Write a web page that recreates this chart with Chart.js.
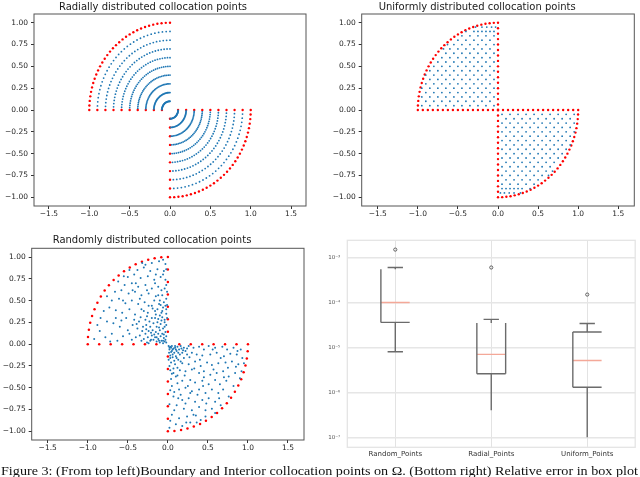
<!DOCTYPE html>
<html><head><meta charset="utf-8">
<script src="https://cdn.jsdelivr.net/npm/chart.js@4"></script>
<style>
html,body{margin:0;padding:0;background:#fff;}
body{width:640px;height:477px;overflow:hidden;position:relative;}
canvas{position:absolute;}
#caption{position:absolute;left:1px;top:464px;font-family:"Liberation Serif",serif;font-size:13px;line-height:13px;white-space:nowrap;color:#111;transform-origin:0 0;}
</style></head>
<body>
<canvas id="cRadial" width="320" height="230" style="left:0;top:0"></canvas>
<canvas id="cUniform" width="320" height="230" style="left:320px;top:0"></canvas>
<canvas id="cRandom" width="320" height="247" style="left:0;top:230px"></canvas>
<canvas id="cBox" width="320" height="230" style="left:320px;top:230px"></canvas>
<div id="caption">Figure 3: (From top left)Boundary and Interior collocation points on Ω. (Bottom right) Relative error in box plot</div>
<script>
// ================= DATA =================
const scatterXTicks = [-1.5, -1.0, -0.5, 0, 0.5, 1.0, 1.5];
const scatterXTickLabels = ['−1.5', '−1.0', '−0.5', '0.0', '0.5', '1.0', '1.5'];
const scatterYTicks = [-1, -0.75, -0.5, -0.25, 0, 0.25, 0.5, 0.75, 1];
const scatterYTickLabels = ['−1.00', '−0.75', '−0.50', '−0.25', '0.00', '0.25', '0.50', '0.75', '1.00'];

// Radial: interior arcs (radii) and angular positions within a quadrant (degrees)
const radialRadii = [0.1, 0.2, 0.3, 0.4, 0.5, 0.6, 0.7, 0.8, 0.9];
const radialBoundaryRadius = 1.0;
const radialArcOffsets = [3, 6, 9, 12, 15, 18, 21, 24, 27, 30, 33, 36, 39, 42, 45, 48, 51, 54, 57, 60, 63, 66, 69, 72, 75, 78, 81, 84, 87];

// Uniform: interior rows of the upper-left quarter (lower-right is its point reflection)
const uniformRowY = [0.05, 0.10, 0.15, 0.20, 0.25, 0.30, 0.35, 0.40, 0.45, 0.50, 0.55, 0.60, 0.65, 0.70, 0.75, 0.80, 0.85, 0.90, 0.95];
const uniformRowX = [
  [-0.95, -0.85, -0.75, -0.65, -0.55, -0.45, -0.35, -0.25, -0.15, -0.05],
  [-0.90, -0.80, -0.70, -0.60, -0.50, -0.40, -0.30, -0.20, -0.10],
  [-0.95, -0.85, -0.75, -0.65, -0.55, -0.45, -0.35, -0.25, -0.15, -0.05],
  [-0.90, -0.80, -0.70, -0.60, -0.50, -0.40, -0.30, -0.20, -0.10],
  [-0.95, -0.85, -0.75, -0.65, -0.55, -0.45, -0.35, -0.25, -0.15, -0.05],
  [-0.90, -0.80, -0.70, -0.60, -0.50, -0.40, -0.30, -0.20, -0.10],
  [-0.85, -0.75, -0.65, -0.55, -0.45, -0.35, -0.25, -0.15, -0.05],
  [-0.90, -0.80, -0.70, -0.60, -0.50, -0.40, -0.30, -0.20, -0.10],
  [-0.85, -0.75, -0.65, -0.55, -0.45, -0.35, -0.25, -0.15, -0.05],
  [-0.80, -0.70, -0.60, -0.50, -0.40, -0.30, -0.20, -0.10],
  [-0.75, -0.65, -0.55, -0.45, -0.35, -0.25, -0.15, -0.05],
  [-0.70, -0.60, -0.50, -0.40, -0.30, -0.20, -0.10],
  [-0.65, -0.55, -0.45, -0.35, -0.25, -0.15, -0.05],
  [-0.68, -0.60, -0.50, -0.40, -0.30, -0.20, -0.10],
  [-0.63, -0.55, -0.45, -0.35, -0.25, -0.15, -0.05],
  [-0.50, -0.40, -0.30, -0.20, -0.10],
  [-0.45, -0.35, -0.25, -0.15, -0.05],
  [-0.40, -0.30, -0.25, -0.20, -0.15, -0.10, -0.05],
  [-0.28, -0.20, -0.14, -0.08, -0.03]
];
const uniformArcOffsets = [0, 3, 6, 9, 12, 15, 18, 21, 24, 27, 30, 33, 36, 39, 42, 45, 48, 51, 54, 57, 60, 63, 66, 69, 72, 75, 78, 81, 84, 87, 90];
const uniformEdgeSteps = [0, 0.0625, 0.125, 0.1875, 0.25, 0.3125, 0.375, 0.4375, 0.5, 0.5625, 0.625, 0.6875, 0.75, 0.8125, 0.875, 0.9375];

// Random: boundary positions and estimated interior points
const randomArcOffsets = [0, 4.7, 9.5, 14.2, 18.9, 23.7, 28.4, 33.2, 37.9, 42.6, 47.4, 52.1, 56.8, 61.6, 66.3, 71.1, 75.8, 80.5, 85.3, 90];
const randomEdgeSteps = [0.143, 0.286, 0.429, 0.571, 0.714, 0.857];
const randomInteriorUL = [
  [-0.02,0.02],[-0.04,0.03],[-0.06,0.01],[-0.03,0.05],[-0.08,0.04],[-0.10,0.02],[-0.05,0.07],[-0.12,0.06],[-0.14,0.03],[-0.09,0.09],
  [-0.02,0.09],[-0.16,0.08],[-0.18,0.05],[-0.07,0.12],[-0.12,0.12],[-0.20,0.10],[-0.22,0.04],[-0.25,0.08],[-0.15,0.14],[-0.03,0.14],
  [-0.10,0.16],[-0.19,0.16],[-0.28,0.12],[-0.24,0.15],[-0.30,0.06],[-0.06,0.18],[-0.14,0.20],[-0.22,0.20],[-0.32,0.15],[-0.02,0.22],
  [-0.09,0.23],[-0.18,0.24],[-0.27,0.22],[-0.35,0.10],[-0.38,0.18],[-0.04,0.28],[-0.12,0.29],[-0.20,0.30],[-0.28,0.28],[-0.36,0.26],
  [-0.44,0.22],[-0.50,0.16],[-0.56,0.09],[-0.63,0.04],[-0.45,0.05],[-0.70,0.12],[-0.78,0.08],[-0.85,0.15],[-0.92,0.06],[-0.60,0.20],
  [-0.68,0.24],[-0.76,0.26],[-0.84,0.30],[-0.52,0.30],[-0.02,0.35],[-0.08,0.36],[-0.16,0.38],[-0.25,0.36],[-0.33,0.40],[-0.41,0.34],
  [-0.48,0.40],[-0.57,0.36],[-0.65,0.39],[-0.73,0.42],[-0.80,0.38],[-0.03,0.44],[-0.11,0.46],[-0.20,0.44],[-0.29,0.48],[-0.37,0.46],
  [-0.45,0.50],[-0.53,0.47],[-0.61,0.52],[-0.70,0.50],[-0.76,0.55],[-0.02,0.52],[-0.07,0.56],[-0.15,0.55],[-0.24,0.58],[-0.33,0.56],
  [-0.41,0.60],[-0.49,0.58],[-0.58,0.62],[-0.66,0.60],[-0.04,0.64],[-0.12,0.66],[-0.20,0.64],[-0.28,0.68],[-0.37,0.66],[-0.45,0.70],
  [-0.54,0.68],[-0.62,0.72],[-0.03,0.74],[-0.09,0.77],[-0.17,0.74],[-0.25,0.78],[-0.34,0.76],[-0.42,0.80],[-0.50,0.77],[-0.05,0.84],
  [-0.13,0.86],[-0.22,0.84],[-0.30,0.88],[-0.38,0.85],[-0.48,0.85],[-0.03,0.92],[-0.11,0.95],[-0.20,0.93],[-0.28,0.91],[-0.06,0.97],
  [-0.01,0.30],[-0.02,0.40],[-0.05,0.48],[-0.01,0.60],[-0.06,0.42],[-0.10,0.33],[-0.13,0.40],[-0.08,0.27],[-0.16,0.30],[-0.23,0.26],
  [-0.31,0.20],[-0.26,0.02],[-0.40,0.08],[-0.42,0.28],[-0.05,0.11],[-0.11,0.04],[-0.17,0.11],[-0.04,0.20],[-0.13,0.25],[-0.21,0.13],
  [-0.07,0.31],[-0.15,0.34],[-0.19,0.41],[-0.26,0.32],[-0.10,0.50],[-0.17,0.50],[-0.24,0.44],[-0.30,0.38],[-0.34,0.31],[-0.39,0.23],
  [-0.27,0.17],[-0.33,0.04],[-0.07,0.38],[-0.12,0.56],[-0.08,0.62],[-0.16,0.70],[-0.02,0.68],[-0.06,0.80],[-0.02,0.86],[-0.15,0.80],
  [-0.56,0.50],[-0.65,0.30],[-0.72,0.03],[-0.88,0.22],[-0.48,0.12],[-0.58,0.27],[-0.35,0.52],[-0.40,0.70],[-0.55,0.78],[-0.32,0.93],
  [-0.44,0.62],[-0.26,0.62],[-0.21,0.05],[-0.04,0.25],[-0.01,0.45],[-0.09,0.45],[-0.14,0.08],[-0.24,0.01],[-0.06,0.04],[-0.11,0.19]
];
const randomInteriorLR = [
  [0.01,-0.02],[0.03,-0.03],[0.05,-0.02],[0.07,-0.05],[0.02,-0.06],[0.05,-0.08],[0.09,-0.04],[0.11,-0.08],[0.08,-0.10],[0.06,-0.12],
  [0.03,-0.13],[0.12,-0.03],[0.14,-0.06],[0.06,-0.15],[0.10,-0.14],[0.15,-0.12],[0.18,-0.10],[0.20,-0.04],[0.22,-0.08],[0.13,-0.18],
  [0.08,-0.19],[0.01,-0.18],[0.04,-0.09],[0.015,-0.10],[0.16,-0.02],[0.02,-0.25],[0.26,-0.02],[0.32,-0.04],[0.39,-0.03],[0.45,-0.06],
  [0.51,-0.02],[0.59,-0.04],[0.68,-0.03],[0.74,-0.06],[0.82,-0.04],[0.91,-0.06],[0.24,-0.12],[0.30,-0.10],[0.36,-0.12],[0.43,-0.13],
  [0.53,-0.12],[0.61,-0.10],[0.70,-0.14],[0.78,-0.11],[0.86,-0.12],[0.93,-0.16],[0.95,-0.22],[0.18,-0.22],[0.26,-0.23],[0.34,-0.20],
  [0.41,-0.25],[0.49,-0.21],[0.55,-0.24],[0.63,-0.22],[0.72,-0.21],[0.80,-0.20],[0.88,-0.23],[0.92,-0.31],[0.12,-0.27],[0.22,-0.31],
  [0.30,-0.29],[0.39,-0.33],[0.45,-0.31],[0.53,-0.35],[0.61,-0.33],[0.69,-0.31],[0.76,-0.37],[0.84,-0.33],[0.90,-0.39],[0.10,-0.37],
  [0.18,-0.42],[0.28,-0.41],[0.34,-0.44],[0.43,-0.42],[0.51,-0.46],[0.59,-0.41],[0.65,-0.46],[0.73,-0.42],[0.82,-0.48],[0.05,-0.48],
  [0.14,-0.52],[0.22,-0.50],[0.30,-0.54],[0.39,-0.52],[0.47,-0.56],[0.55,-0.52],[0.63,-0.56],[0.69,-0.52],[0.76,-0.60],[0.07,-0.60],
  [0.18,-0.64],[0.26,-0.62],[0.34,-0.66],[0.43,-0.64],[0.51,-0.62],[0.59,-0.66],[0.66,-0.70],[0.11,-0.70],[0.20,-0.74],[0.30,-0.76],
  [0.39,-0.72],[0.47,-0.76],[0.55,-0.74],[0.59,-0.79],[0.05,-0.81],[0.14,-0.85],[0.24,-0.83],[0.32,-0.81],[0.41,-0.87],[0.47,-0.83],
  [0.10,-0.92],[0.18,-0.94],[0.28,-0.90],[0.36,-0.90],[0.03,-0.88],[0.02,-0.69],[0.04,-0.40],[0.03,-0.30],[0.09,-0.23],[0.15,-0.30],
  [0.05,-0.34],[0.20,-0.16],[0.27,-0.15],[0.12,-0.45],[0.08,-0.55],[0.04,-0.04],[0.10,-0.06],[0.03,-0.16],[0.07,-0.28],[0.17,-0.05],
  [0.02,-0.04],[0.06,-0.06],[0.09,-0.02],[0.13,-0.10],[0.04,-0.21],[0.11,-0.16],[0.19,-0.07],[0.24,-0.05],[0.16,-0.20],[0.07,-0.33],
  [0.12,-0.36],[0.21,-0.36],[0.25,-0.48],[0.16,-0.58],[0.37,-0.58],[0.44,-0.48],[0.57,-0.29],[0.66,-0.16],[0.75,-0.27],[0.85,-0.26],
  [0.87,-0.08],[0.70,-0.38],[0.48,-0.68],[0.35,-0.82],[0.23,-0.90],[0.08,-0.76],[0.22,-0.68],[0.03,-0.53],[0.64,-0.62],[0.56,-0.06],
  [0.40,-0.18],[0.33,-0.28],[0.02,-0.96],[0.13,-0.62],[0.28,-0.56],[0.45,-0.38]
];

// Box plot (relative error)
const boxCategories = ['Random_Points', 'Radial_Points', 'Uniform_Points'];
const boxWhiskerLow  = [8.0e-6, 4.0e-7, 1.0e-7];
const boxQ1          = [3.6e-5, 2.6e-6, 1.3e-6];
const boxMedian      = [1.0e-4, 7.0e-6, 5.1e-6];
const boxQ3          = [5.5e-4, 3.5e-5, 2.2e-5];
const boxWhiskerHigh = [6.0e-4, 4.2e-5, 3.4e-5];
const boxOutliers    = [1.5e-3, 6.0e-4, 1.5e-4];
const boxYTicks = [1e-7, 1e-6, 1e-5, 1e-4, 1e-3];
const boxYTickLabels = ['10⁻⁷', '10⁻⁶', '10⁻⁵', '10⁻⁴', '10⁻³'];

// ================= STYLE / BUILD =================
Chart.defaults.font.family = '"DejaVu Sans", sans-serif';
const BLUE = '#1f77b4', RED = '#ff0000';
const rad = d => d * Math.PI / 180;
const polar = (r, deg) => ({ x: r * Math.cos(rad(deg)), y: r * Math.sin(rad(deg)) });

Chart.register({
  id: 'frame',
  defaults: { color: '#555', width: 1 },
  afterDraw(chart, args, o) {
    const a = chart.chartArea, c = chart.ctx;
    c.save(); c.strokeStyle = o.color; c.lineWidth = o.width;
    c.strokeRect(a.left, a.top, a.right - a.left, a.bottom - a.top);
    c.restore();
  }
});

// radial point sets
const radialBlue = [], radialRed = [];
radialRadii.forEach(r => {
  radialBlue.push(polar(r, 90));
  radialArcOffsets.forEach(o => { radialBlue.push(polar(r, 90 + o)); radialBlue.push(polar(r, 270 + o)); });
});
radialRadii.concat([radialBoundaryRadius]).forEach(r => {
  radialRed.push(polar(r, 180)); radialRed.push(polar(r, 270)); radialRed.push(polar(r, 360));
});
radialRed.push(polar(radialBoundaryRadius, 90));
radialArcOffsets.forEach(o => { radialRed.push(polar(radialBoundaryRadius, 90 + o)); radialRed.push(polar(radialBoundaryRadius, 270 + o)); });

// uniform point sets
const uniformBlue = [], uniformRed = [];
uniformRowY.forEach((y, i) => uniformRowX[i].forEach(x => { uniformBlue.push({ x, y }); uniformBlue.push({ x: -x, y: -y }); }));
uniformArcOffsets.forEach(o => { uniformRed.push(polar(1, 90 + o)); uniformRed.push(polar(1, 270 + o)); });
uniformEdgeSteps.forEach(s => {
  uniformRed.push({ x: -s, y: 0 }); uniformRed.push({ x: 0, y: s });
  uniformRed.push({ x: s, y: 0 }); uniformRed.push({ x: 0, y: -s });
});

// random point sets
const randomBlue = randomInteriorUL.concat(randomInteriorLR).map(p => ({ x: p[0], y: p[1] }));
const randomRed = [];
randomArcOffsets.forEach(o => { randomRed.push(polar(1, 90 + o)); randomRed.push(polar(1, 270 + o)); });
randomEdgeSteps.forEach(s => {
  randomRed.push({ x: -s, y: 0 }); randomRed.push({ x: 0, y: s });
  randomRed.push({ x: s, y: 0 }); randomRed.push({ x: 0, y: -s });
});

function scatterChart(id, cfg) {
  const W = cfg.W, H = cfg.H, a = cfg.area;
  const tickFont = { size: 7.5 };
  return new Chart(document.getElementById(id), {
    type: 'scatter',
    data: { datasets: [
      { data: cfg.blue, pointRadius: cfg.br, backgroundColor: BLUE, borderWidth: 0 },
      { data: cfg.red, pointRadius: cfg.rr, backgroundColor: RED, borderWidth: 0 }
    ] },
    options: {
      responsive: false, animation: false, devicePixelRatio: 1, events: [],
      layout: { padding: { left: 0, top: 0, right: W - a.right, bottom: 0 } },
      plugins: {
        legend: { display: false }, tooltip: { enabled: false },
        title: { display: true, text: cfg.title, color: '#1a1a1a', font: { size: 10, weight: 'normal' },
                 padding: { top: cfg.tp, bottom: a.top - 12 - cfg.tp } },
        frame: { color: '#555', width: 1 }
      },
      scales: {
        x: { type: 'linear', min: -cfg.xr, max: cfg.xr,
             afterBuildTicks: s => { s.ticks = scatterXTicks.map(v => ({ value: v })); },
             afterFit: s => { s.height = H - a.bottom; },
             ticks: { callback: (v, i) => scatterXTickLabels[i], font: tickFont, color: '#262626', padding: 1, maxRotation: 0, autoSkip: false },
             grid: { drawOnChartArea: false, drawTicks: true, tickLength: 3, color: '#333' }, border: { display: false } },
        y: { type: 'linear', min: -1.1, max: 1.1,
             afterBuildTicks: s => { s.ticks = scatterYTicks.map(v => ({ value: v })); },
             afterFit: s => { s.width = a.left; },
             ticks: { callback: (v, i) => scatterYTickLabels[i], font: tickFont, color: '#262626', padding: 3, autoSkip: false },
             grid: { drawOnChartArea: false, drawTicks: true, tickLength: 3, color: '#333' }, border: { display: false } }
      }
    }
  });
}

scatterChart('cRadial', { W: 320, H: 230, area: { left: 34, top: 14, right: 306, bottom: 206 }, xr: 1.685, tp: 1,
  title: 'Radially distributed collocation points', blue: radialBlue, red: radialRed, br: 0.9, rr: 1.2 });
scatterChart('cUniform', { W: 320, H: 230, area: { left: 41.7, top: 14, right: 314.3, bottom: 206 }, xr: 1.70, tp: 1,
  title: 'Uniformly distributed collocation points', blue: uniformBlue, red: uniformRed, br: 0.9, rr: 1.2 });
scatterChart('cRandom', { W: 320, H: 247, area: { left: 31.7, top: 18.3, right: 304, bottom: 210 }, xr: 1.70, tp: 4,
  title: 'Randomly distributed collocation points', blue: randomBlue, red: randomRed, br: 1.0, rr: 1.25 });

// box plot
const BOXW = 0.15, CAPW = 0.08;
const boxSides = ['lb', 'lbr', 'tlb'];       // box edges visible in the reference
const capHigh = [true, true, true], capLow = [true, false, false];
const GRAY = '#6b6b6b';
const seg = (pts, color, w) => ({ data: pts, showLine: true, pointRadius: 0, borderColor: color, borderWidth: w, fill: false });
const boxDatasets = [];
boxCategories.forEach((c, i) => {
  const x = i + 1, L = x - BOXW, R = x + BOXW;
  boxDatasets.push(seg([{ x, y: boxQ3[i] }, { x, y: boxWhiskerHigh[i] }], GRAY, 1.4));
  boxDatasets.push(seg([{ x, y: boxQ1[i] }, { x, y: boxWhiskerLow[i] }], GRAY, 1.4));
  if (capHigh[i]) boxDatasets.push(seg([{ x: x - CAPW, y: boxWhiskerHigh[i] }, { x: x + CAPW, y: boxWhiskerHigh[i] }], GRAY, 1.4));
  if (capLow[i]) boxDatasets.push(seg([{ x: x - CAPW, y: boxWhiskerLow[i] }, { x: x + CAPW, y: boxWhiskerLow[i] }], GRAY, 1.4));
  const s = boxSides[i];
  if (s.includes('t')) boxDatasets.push(seg([{ x: L, y: boxQ3[i] }, { x: R, y: boxQ3[i] }], GRAY, 1.4));
  if (s.includes('l')) boxDatasets.push(seg([{ x: L, y: boxQ3[i] }, { x: L, y: boxQ1[i] }], GRAY, 1.4));
  if (s.includes('b')) boxDatasets.push(seg([{ x: L, y: boxQ1[i] }, { x: R, y: boxQ1[i] }], GRAY, 1.4));
  if (s.includes('r')) boxDatasets.push(seg([{ x: R, y: boxQ3[i] }, { x: R, y: boxQ1[i] }], GRAY, 1.4));
  boxDatasets.push(seg([{ x: L, y: boxMedian[i] }, { x: R, y: boxMedian[i] }], '#f4a898', 1.4));
});
boxDatasets.push({ data: boxOutliers.map((v, i) => ({ x: i + 1, y: v })), pointRadius: 1.6,
  backgroundColor: 'rgba(0,0,0,0)', borderColor: '#444', borderWidth: 0.8 });

(function () {
  const W = 320, H = 230, a = { left: 27.3, top: 5, right: 319, bottom: 217.3 };
  new Chart(document.getElementById('cBox'), {
    type: 'scatter',
    data: { datasets: boxDatasets },
    options: {
      responsive: false, animation: false, devicePixelRatio: 1, events: [],
      layout: { padding: { left: 0, top: a.top, right: W - a.right, bottom: 0 } },
      plugins: { legend: { display: false }, tooltip: { enabled: false }, frame: { color: '#e4e4e4', width: 1.3 } },
      scales: {
        x: { type: 'linear', min: 0.5, max: 3.5,
             afterBuildTicks: s => { s.ticks = boxCategories.map((c, i) => ({ value: i + 1 })); },
             afterFit: s => { s.height = H - a.bottom; },
             ticks: { callback: (v, i) => boxCategories[i], font: { size: 7 }, color: '#333', padding: 3, maxRotation: 0, autoSkip: false },
             grid: { drawTicks: false, color: '#e3e3e3', lineWidth: 1 }, border: { display: false } },
        y: { type: 'logarithmic', min: Math.pow(10, -7.21), max: Math.pow(10, -2.617),
             afterBuildTicks: s => { s.ticks = boxYTicks.map(v => ({ value: v })); },
             afterFit: s => { s.width = a.left; },
             ticks: { callback: (v, i) => boxYTickLabels[i], font: { size: 5.5 }, color: '#555', padding: 7, autoSkip: false },
             grid: { drawTicks: false, color: '#e6e6e6', lineWidth: 1.5 }, border: { display: false } }
      }
    }
  });
})();

// fit caption to page width
(function () {
  const el = document.getElementById('caption');
  const w = el.getBoundingClientRect().width;
  el.style.transform = 'scaleX(' + (637 / w) + ')';
})();
</script>
</body></html>
